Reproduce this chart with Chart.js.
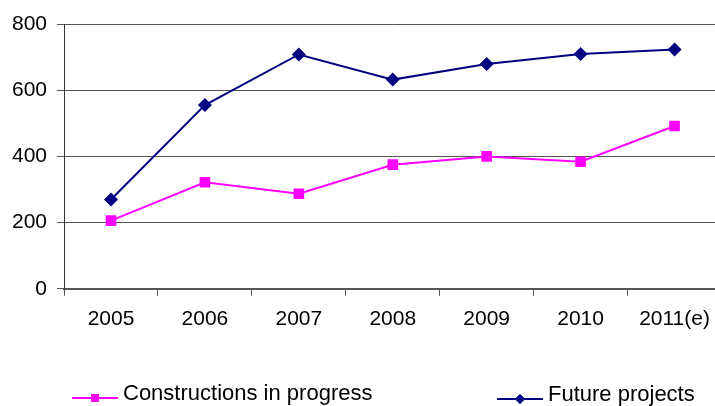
<!DOCTYPE html>
<html>
<head>
<meta charset="utf-8">
<script src="https://cdn.jsdelivr.net/npm/chart.js@4.4.1/dist/chart.umd.min.js"></script>
<style>
  html, body { margin: 0; padding: 0; background: #fff; overflow: hidden; }
  #wrap { width: 729px; height: 406px; }
</style>
</head>
<body>
<div id="wrap"><canvas id="projectsChart" width="729" height="406"></canvas></div>
<script>
// Projects by year
const years = ['2005', '2006', '2007', '2008', '2009', '2010', '2011(e)'];
const constructionsInProgress = [206, 322, 287, 375, 400, 384, 492];
const futureProjects = [270, 555, 708, 632, 679, 709, 723];
const yTicks = [0, 200, 400, 600, 800];

const FONT = "'Liberation Sans', Arial, sans-serif";

// Legend drawn below the plot: short line with the marker on it, then the label
const lineLegend = {
    id: 'lineLegend',
    afterDraw(chart) {
        const ctx = chart.ctx;
        const items = [
            { ds: 0, x: 72, y: 398, textX: 123, marker: 'rect', r: 5.6 },
            { ds: 1, x: 497, y: 399, textX: 548, marker: 'rectRot', r: 5 }
        ];
        ctx.save();
        items.forEach(it => {
            const ds = chart.data.datasets[it.ds];
            ctx.strokeStyle = ds.borderColor;
            ctx.lineWidth = 2;
            ctx.beginPath();
            ctx.moveTo(it.x, it.y);
            ctx.lineTo(it.x + 46, it.y);
            ctx.stroke();
            ctx.fillStyle = ds.backgroundColor;
            Chart.helpers.drawPoint(ctx, { pointStyle: it.marker, radius: it.r, borderWidth: 0 }, it.x + 23, it.y);
            ctx.fill();
            ctx.fillStyle = '#000';
            ctx.font = '22px ' + FONT;
            ctx.textBaseline = 'middle';
            ctx.fillText(ds.label, it.textX, it.y - 4);
        });
        ctx.restore();
    }
};

new Chart(document.getElementById('projectsChart'), {
    type: 'line',
    data: {
        labels: years,
        datasets: [{
            label: 'Constructions in progress',
            data: constructionsInProgress,
            borderColor: '#ff00ff',
            backgroundColor: '#ff00ff',
            borderWidth: 2,
            pointStyle: 'rect',
            pointRadius: 7.5,
            pointBorderWidth: 0,
            tension: 0
        }, {
            label: 'Future projects',
            data: futureProjects,
            borderColor: '#000080',
            backgroundColor: '#000080',
            borderWidth: 2,
            pointStyle: 'rectRot',
            pointRadius: 7,
            pointBorderWidth: 0,
            tension: 0
        }]
    },
    options: {
        responsive: false,
        animation: false,
        layout: { padding: { left: 2, top: 24, right: 0, bottom: 63 } },
        plugins: {
            legend: { display: false },
            tooltip: { enabled: false }
        },
        scales: {
            x: {
                offset: true,
                grid: {
                    offset: true,
                    drawOnChartArea: false,
                    tickLength: 7,
                    color: '#555'
                },
                border: { color: '#555', width: 2 },
                ticks: {
                    color: '#000',
                    padding: 11,
                    maxRotation: 0,
                    font: { family: FONT, size: 21 }
                }
            },
            y: {
                min: 0,
                max: 800,
                afterBuildTicks(scale) {
                    scale.ticks = yTicks.map(v => ({ value: v }));
                },
                grid: {
                    color: '#555',
                    tickLength: 7
                },
                border: { color: '#333', width: 1 },
                ticks: {
                    color: '#000',
                    padding: 10,
                    font: { family: FONT, size: 21 }
                }
            }
        }
    },
    plugins: [lineLegend]
});
</script>
</body>
</html>
